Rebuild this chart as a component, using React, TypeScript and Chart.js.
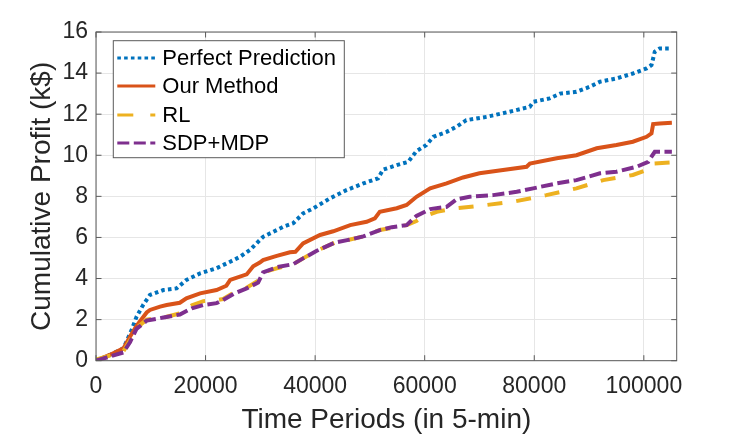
import React, { useEffect, useRef } from "react";
import { Chart, registerables } from "chart.js";

Chart.register(...registerables);

// ---- Data (x in time periods, y in k$) ----
const PERFECT_X = [0, 1000, 2500, 5000, 6500, 7400, 8600, 9850, 12300, 14700, 16500, 19000, 22000, 24500, 26300, 28100, 29300, 30500, 33000, 34200, 36000, 37800, 39700, 42700, 45700, 48800, 51500, 52400, 54900, 57000, 58500, 60300, 61600, 64000, 65800, 67600, 71300, 75500, 79200, 79800, 82800, 84700, 87700, 90100, 92000, 95000, 98000, 100500, 101400, 102000, 102900, 105120];
const PERFECT_Y = [0, 0.1, 0.28, 0.6, 1.49, 2.14, 2.71, 3.2, 3.44, 3.52, 3.93, 4.25, 4.5, 4.82, 5.06, 5.39, 5.71, 6.03, 6.36, 6.52, 6.69, 7.17, 7.42, 7.9, 8.3, 8.63, 8.88, 9.3, 9.52, 9.68, 10.2, 10.5, 10.9, 11.14, 11.39, 11.71, 11.87, 12.12, 12.36, 12.6, 12.77, 13.0, 13.09, 13.33, 13.58, 13.74, 13.98, 14.23, 14.39, 15.04, 15.2, 15.2];

const OURS_X = [0, 2500, 5000, 6200, 7400, 9250, 9850, 11700, 12900, 15300, 16500, 19000, 22000, 23800, 24500, 27500, 28700, 29900, 30500, 33000, 35400, 36400, 37800, 40900, 43300, 46400, 49400, 50900, 51800, 54900, 56700, 58500, 61000, 64000, 67000, 70000, 74300, 78600, 79200, 84100, 87700, 91400, 95000, 98000, 100500, 101400, 101700, 102900, 105120];
const OURS_Y = [0, 0.28, 0.6, 1.17, 1.7, 2.35, 2.47, 2.63, 2.71, 2.82, 3.04, 3.28, 3.44, 3.65, 3.93, 4.2, 4.6, 4.78, 4.9, 5.1, 5.28, 5.3, 5.71, 6.12, 6.3, 6.6, 6.76, 6.93, 7.25, 7.42, 7.58, 7.98, 8.39, 8.63, 8.92, 9.12, 9.28, 9.44, 9.6, 9.85, 10.0, 10.34, 10.5, 10.66, 10.9, 11.07, 11.52, 11.55, 11.58];

const RL_X = [0, 2500, 5000, 6200, 7400, 9250, 12300, 15300, 17500, 19600, 22000, 23200, 25100, 27500, 29600, 30500, 33000, 36000, 37800, 40300, 43600, 46400, 48800, 51800, 54900, 56700, 58500, 59700, 62200, 65800, 71300, 76200, 82200, 87700, 92600, 98000, 100500, 101700, 105120];
const RL_Y = [0.05, 0.25, 0.45, 1.0, 1.6, 2.0, 2.1, 2.3, 2.7, 2.9, 2.95, 3.0, 3.3, 3.55, 3.9, 4.3, 4.5, 4.7, 4.98, 5.35, 5.75, 5.9, 6.05, 6.36, 6.5, 6.6, 6.8, 7.0, 7.25, 7.42, 7.58, 7.74, 8.06, 8.39, 8.79, 9.04, 9.28, 9.6, 9.65];

const SDP_X = [0, 2500, 5000, 6200, 7400, 9250, 12300, 15300, 17500, 19600, 22000, 23200, 25100, 27500, 29600, 30500, 33000, 36000, 37800, 40300, 43600, 46400, 48800, 51800, 54000, 56700, 58500, 61000, 64000, 65800, 68200, 72500, 76800, 79800, 84100, 87700, 92000, 95000, 98700, 100800, 101400, 102000, 105120];
const SDP_Y = [0, 0.2, 0.4, 0.9, 1.55, 1.95, 2.1, 2.25, 2.55, 2.71, 2.8, 2.95, 3.25, 3.52, 3.8, 4.3, 4.55, 4.7, 4.98, 5.35, 5.75, 5.9, 6.05, 6.36, 6.5, 6.6, 7.05, 7.38, 7.49, 7.85, 7.98, 8.06, 8.22, 8.39, 8.63, 8.79, 9.12, 9.2, 9.44, 9.68, 9.93, 10.17, 10.17];

const SERIES_NAMES = ["Perfect Prediction", "Our Method", "RL", "SDP+MDP"];
const X_TICKS = [0, 20000, 40000, 60000, 80000, 100000];
const Y_TICKS = [0, 2, 4, 6, 8, 10, 12, 14, 16];
const X_TITLE = "Time Periods (in 5-min)";
const Y_TITLE = "Cumulative Profit (k$)";

const FONT = "'Liberation Sans', Arial, Helvetica, sans-serif";
const TEXT_COLOR = "#262626";
const AXIS_COLOR = "#5a5a5a";
const GRID_COLOR = "#e6e6e6";

const toPoints = (xs: number[], ys: number[]) => xs.map((x, i) => ({ x, y: ys[i] }));

const framePlugin = {
  id: "frame",
  afterDatasetsDraw(chart: any) {
    const { ctx, chartArea: a, scales } = chart;
    ctx.save();
    ctx.strokeStyle = AXIS_COLOR;
    ctx.lineWidth = 1;
    ctx.strokeRect(a.left, a.top, a.right - a.left, a.bottom - a.top);
    const tl = 5.5;
    ctx.beginPath();
    for (const t of scales.x.ticks) {
      const px = scales.x.getPixelForValue(t.value);
      ctx.moveTo(px, a.bottom);
      ctx.lineTo(px, a.bottom - tl);
      ctx.moveTo(px, a.top);
      ctx.lineTo(px, a.top + tl);
    }
    for (const t of scales.y.ticks) {
      const py = scales.y.getPixelForValue(t.value);
      ctx.moveTo(a.left, py);
      ctx.lineTo(a.left + tl, py);
      ctx.moveTo(a.right, py);
      ctx.lineTo(a.right - tl, py);
    }
    ctx.stroke();
    ctx.restore();
  },
};

const legendPlugin = {
  id: "boxLegend",
  afterDraw(chart: any) {
    const { ctx, chartArea: a } = chart;
    const bx = a.left + 17.3;
    const by = a.top + 8.7;
    const bw = 231;
    const bh = 117;
    ctx.save();
    ctx.fillStyle = "#ffffff";
    ctx.fillRect(bx, by, bw, bh);
    ctx.strokeStyle = AXIS_COLOR;
    ctx.lineWidth = 1;
    ctx.strokeRect(bx, by, bw, bh);
    const rowY = [17.3, 45.3, 74.3, 102.3];
    chart.data.datasets.forEach((ds: any, i: number) => {
      const y = by + rowY[i];
      ctx.beginPath();
      ctx.strokeStyle = ds.borderColor;
      ctx.lineWidth = 3.2;
      ctx.lineCap = "butt";
      ctx.setLineDash(ds.legendDash || ds.borderDash || []);
      ctx.moveTo(bx + 4, y);
      ctx.lineTo(bx + 42, y);
      ctx.stroke();
      ctx.setLineDash([]);
      ctx.fillStyle = "#000000";
      ctx.font = `22px ${FONT}`;
      ctx.textBaseline = "middle";
      ctx.textAlign = "left";
      ctx.fillText(ds.label, bx + 49, y + 1);
    });
    ctx.restore();
  },
};

export default function App() {
  const canvasRef = useRef<HTMLCanvasElement | null>(null);

  useEffect(() => {
    if (!canvasRef.current) return;
    const common = { fill: false, pointRadius: 0, borderWidth: 4, tension: 0, borderCapStyle: "butt" as const };
    const chart = new Chart(canvasRef.current, {
      type: "line",
      data: {
        datasets: [
          { ...common, label: SERIES_NAMES[0], data: toPoints(PERFECT_X, PERFECT_Y), borderColor: "#0072BD", borderDash: [3.6, 3.2], order: 3 },
          { ...common, label: SERIES_NAMES[1], data: toPoints(OURS_X, OURS_Y), borderColor: "#D95319", order: 2 },
          { ...common, label: SERIES_NAMES[2], data: toPoints(RL_X, RL_Y), borderColor: "#EDB120", borderDash: [15, 14], legendDash: [16, 17], order: 1 },
          { ...common, label: SERIES_NAMES[3], data: toPoints(SDP_X, SDP_Y), borderColor: "#7E2F8E", borderDash: [12, 4.5], order: 0 },
        ],
      },
      options: {
        animation: false,
        responsive: true,
        maintainAspectRatio: false,
        devicePixelRatio: 1,
        layout: { padding: { left: 0, top: 32, right: 70.3, bottom: 0 } },
        plugins: { legend: { display: false }, tooltip: { enabled: false } },
        scales: {
          x: {
            type: "linear",
            min: 0,
            max: 106000,
            afterFit: (s: any) => { s.height = 76.3; },
            afterBuildTicks: (s: any) => { s.ticks = X_TICKS.map((v) => ({ value: v })); },
            ticks: {
              color: TEXT_COLOR,
              font: { family: FONT, size: 23 },
              padding: 12,
              maxRotation: 0,
              autoSkip: false,
              callback: (v: any) => String(v),
            },
            grid: { color: GRID_COLOR, drawTicks: false, lineWidth: 1 },
            border: { display: false },
            title: {
              display: true,
              text: X_TITLE,
              color: TEXT_COLOR,
              font: { family: FONT, size: 28 },
              padding: { top: 0, bottom: 0 },
            },
          },
          y: {
            type: "linear",
            min: 0,
            max: 16,
            afterFit: (s: any) => { s.width = 96; },
            afterBuildTicks: (s: any) => { s.ticks = Y_TICKS.map((v) => ({ value: v })); },
            ticks: {
              color: TEXT_COLOR,
              font: { family: FONT, size: 23 },
              padding: 8,
              autoSkip: false,
              callback: (v: any) => String(v),
            },
            grid: { color: GRID_COLOR, drawTicks: false, lineWidth: 1 },
            border: { display: false },
            title: {
              display: true,
              text: Y_TITLE,
              color: TEXT_COLOR,
              font: { family: FONT, size: 28 },
              padding: { top: 25, bottom: 0 },
            },
          },
        },
      },
      plugins: [framePlugin, legendPlugin],
    });
    return () => chart.destroy();
  }, []);

  return (
    <div style={{ position: "fixed", left: 0, top: 0, width: 747, height: 437, background: "#fff" }}>
      <canvas ref={canvasRef} />
    </div>
  );
}
